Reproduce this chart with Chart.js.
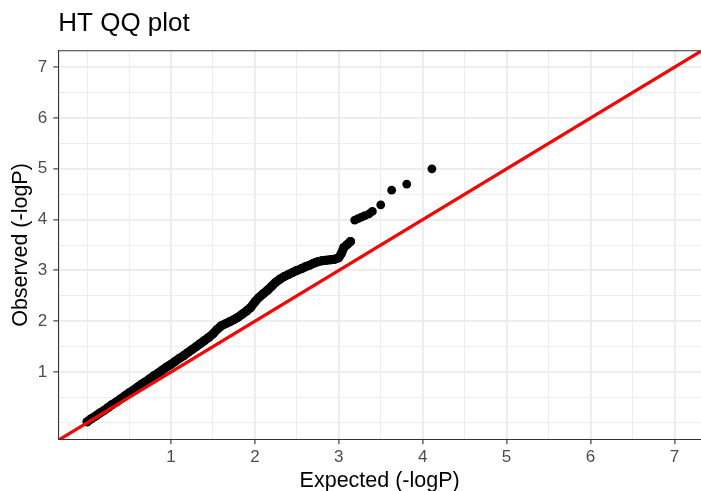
<!DOCTYPE html>
<html><head><meta charset="utf-8">
<script src="https://cdn.jsdelivr.net/npm/chart.js@4/dist/chart.umd.min.js"></script>
<style>html,body{margin:0;padding:0;background:#fff}canvas{display:block}</style>
</head><body>
<canvas id="c" width="701" height="491"></canvas>
<script>
const chartTitle = 'HT QQ plot';
const xTitle = 'Expected (-logP)';
const yTitle = 'Observed (-logP)';
const tickLabels = ['1','2','3','4','5','6','7'];

// dense part of the QQ curve (overlapping points)
const expectedDense = [0.00,0.05,0.10,0.15,0.20,0.25,0.30,0.35,0.40,0.45,0.50,0.55,0.60,0.65,0.70,0.75,0.80,0.85,0.90,0.95,
  1.00,1.05,1.10,1.15,1.20,1.25,1.30,1.35,1.40,1.45,1.50,1.55,1.60,1.65,1.70,1.75,1.80,1.85,1.90,1.95,
  2.00,2.05,2.10,2.15,2.20,2.25,2.30,2.35,2.40,2.45,2.50,2.55,2.60,2.65,2.70,2.75,2.80,2.85,2.90,2.95,
  3.00,3.03,3.06,3.10,3.14];
const observedDense = [0.02,0.08,0.13,0.19,0.24,0.30,0.36,0.41,0.47,0.53,0.59,0.64,0.70,0.76,0.81,0.87,0.93,0.98,1.04,1.10,
  1.15,1.21,1.27,1.32,1.38,1.44,1.50,1.56,1.62,1.68,1.75,1.84,1.91,1.95,1.99,2.03,2.08,2.14,2.20,2.27,
  2.38,2.47,2.54,2.61,2.69,2.77,2.83,2.88,2.92,2.96,3.00,3.03,3.07,3.10,3.14,3.17,3.19,3.20,3.21,3.22,
  3.25,3.33,3.45,3.51,3.57];
// sparse tail points
const expectedTail = [3.19,3.23,3.27,3.31,3.36,3.40,3.50,3.63,3.81,4.11];
const observedTail = [3.99,4.02,4.05,4.08,4.11,4.16,4.29,4.58,4.70,5.00];
// reference line y = x
const refX = [-1, 8];
const refY = [-1, 8];

const toPts = (xs, ys) => xs.map((x, i) => ({x: x, y: ys[i]}));
const isMajor = v => tickLabels.includes(String(v));

Chart.defaults.font.family = '"Liberation Sans", Arial, Helvetica, sans-serif';

// top edge of the panel border (bottom/left come from the axes)
const panelBorder = {
  id: 'panelBorder',
  afterDatasetsDraw(chart) {
    const {ctx, chartArea: a} = chart;
    ctx.save();
    ctx.strokeStyle = '#333333';
    ctx.lineWidth = 1.1;
    ctx.beginPath();
    ctx.moveTo(a.left, a.top);
    ctx.lineTo(a.right, a.top);
    ctx.stroke();
    ctx.restore();
  }
};

function gridOpts() {
  return {
    color: '#ebebeb',
    lineWidth: c => (c.tick && isMajor(c.tick.value)) ? 1.8 : 0.9,
    drawTicks: true,
    tickLength: 5,
    tickWidth: 1.1,
    tickColor: c => (c.tick && isMajor(c.tick.value)) ? '#333333' : 'rgba(0,0,0,0)'
  };
}

function zeroPad(s) {
  s.paddingLeft = 0; s.paddingRight = 0; s.paddingTop = 0; s.paddingBottom = 0;
}

new Chart(document.getElementById('c'), {
  type: 'scatter',
  data: {
    datasets: [
      {
        label: 'y = x',
        type: 'line',
        data: toPts(refX, refY),
        borderColor: '#ff0000',
        borderWidth: 3.2,
        pointRadius: 0,
        fill: false,
        clip: 0,
        order: 0
      },
      {
        label: 'observed',
        data: toPts(expectedDense, observedDense),
        showLine: true,
        borderColor: '#000000',
        borderWidth: 9,
        borderCapStyle: 'round',
        borderJoinStyle: 'round',
        backgroundColor: '#000000',
        pointRadius: 4.5,
        pointBorderWidth: 0,
        order: 1
      },
      {
        label: 'tail',
        data: toPts(expectedTail, observedTail),
        backgroundColor: '#000000',
        pointRadius: 4.4,
        pointBorderWidth: 0,
        order: 1
      }
    ]
  },
  options: {
    responsive: false,
    animation: false,
    devicePixelRatio: 1,
    layout: {autoPadding: false, padding: {left: 0, right: 0, top: 0, bottom: 0}},
    plugins: {
      legend: {display: false},
      tooltip: {enabled: false},
      title: {
        display: true,
        text: chartTitle,
        align: 'start',
        fullSize: false,
        color: '#000000',
        font: {size: 26, weight: 'normal', lineHeight: 1.2},
        padding: {top: 8.7, bottom: 10.8}
      }
    },
    scales: {
      x: {
        type: 'linear',
        position: 'bottom',
        min: -0.343,
        max: 7.317,
        afterFit: s => { s.height = 51.7; zeroPad(s); },
        ticks: {
          stepSize: 0.5,
          includeBounds: false,
          autoSkip: false,
          maxRotation: 0,
          padding: 3.2,
          color: '#4d4d4d',
          font: {size: 17},
          callback: v => isMajor(v) ? String(v) : ''
        },
        grid: gridOpts(),
        border: {display: true, color: '#333333', width: 1.1},
        title: {
          display: true,
          text: xTitle,
          color: '#000000',
          font: {size: 21.5, lineHeight: 0.9},
          padding: {top: 0, bottom: 0.5}
        }
      },
      y: {
        type: 'linear',
        position: 'left',
        min: -0.325,
        max: 7.325,
        afterFit: s => { s.width = 58.3; zeroPad(s); },
        ticks: {
          stepSize: 0.5,
          includeBounds: false,
          autoSkip: false,
          padding: 6,
          color: '#4d4d4d',
          font: {size: 17},
          callback: v => isMajor(v) ? String(v) : ''
        },
        grid: gridOpts(),
        border: {display: true, color: '#333333', width: 1.1},
        title: {
          display: true,
          text: yTitle,
          color: '#000000',
          font: {size: 21.5, lineHeight: 1.2},
          padding: {top: 8.6, bottom: 0}
        }
      }
    }
  },
  plugins: [panelBorder]
});
</script>
</body></html>
